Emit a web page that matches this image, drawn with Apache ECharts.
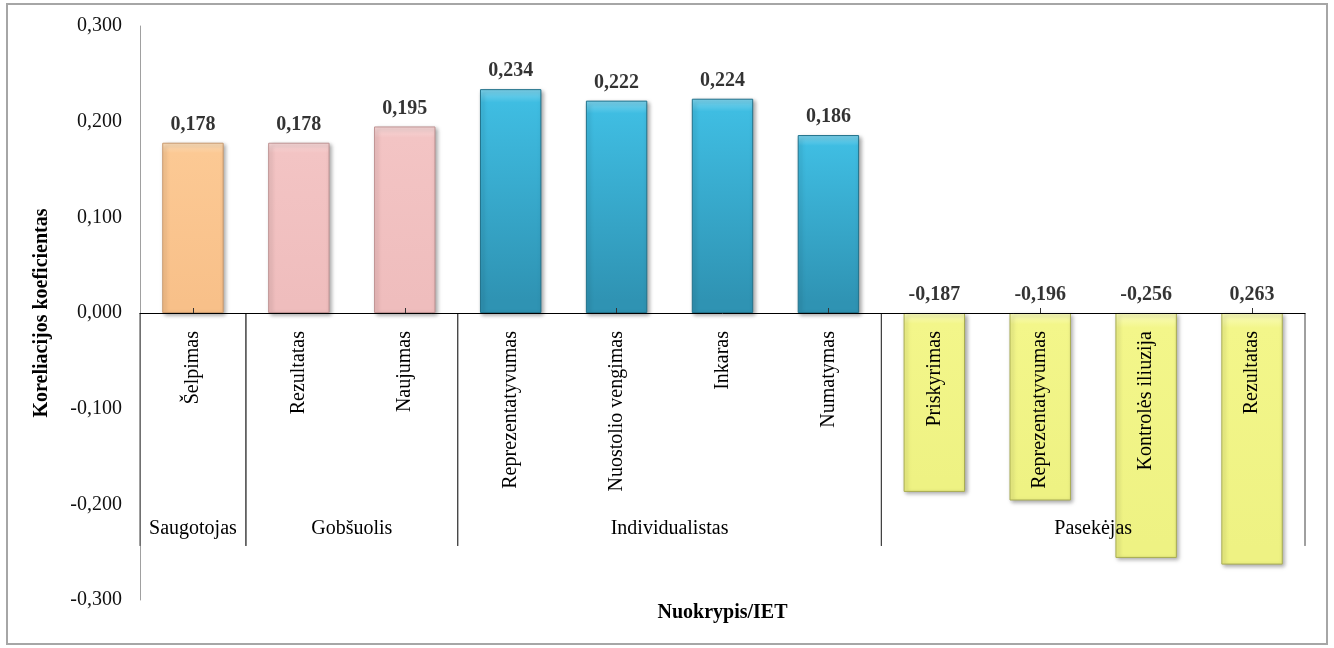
<!DOCTYPE html>
<html>
<head>
<meta charset="utf-8">
<title>Koreliacijos koeficientas</title>
<script src="https://cdn.jsdelivr.net/npm/echarts@6/dist/echarts.min.js"></script>
<style>
  html, body { margin: 0; padding: 0; background: #fff; }
  #chart { width: 1334px; height: 648px; }
</style>
</head>
<body>
<div id="chart"></div>
<script>
'use strict';

// data
var categories = ['Šelpimas', 'Rezultatas', 'Naujumas', 'Reprezentatyvumas', 'Nuostolio vengimas',
  'Inkaras', 'Numatymas', 'Priskyrimas', 'Reprezentatyvumas', 'Kontrolės iliuzija', 'Rezultatas'];
var values = [0.178, 0.178, 0.195, 0.234, 0.222, 0.224, 0.186, -0.187, -0.196, -0.256, -0.263];
var valueLabels = ['0,178', '0,178', '0,195', '0,234', '0,222', '0,224', '0,186',
  '-0,187', '-0,196', '-0,256', '0,263'];
var groupNames = ['Saugotojas', 'Gobšuolis', 'Individualistas', 'Pasekėjas'];
var groupStart = [0, 1, 3, 7];
var groupEnd = [0, 2, 6, 10];
var groupOf = [0, 1, 1, 2, 2, 2, 2, 3, 3, 3, 3];

var FONT = '"Liberation Serif", "Times New Roman", serif';

function grad(top, mid, bottom) {
  return new echarts.graphic.LinearGradient(0, 0, 0, 1, [
    { offset: 0, color: top },
    { offset: 0.06, color: mid },
    { offset: 0.94, color: bottom }
  ]);
}
var groupStyles = [
  { color: grad('#fde0bd', '#fcc994', '#f8c089'), borderColor: '#c99a6e' },
  { color: grad('#f9dada', '#f3c4c4', '#efbdbd'), borderColor: '#bf9393' },
  { color: grad('#7fd6ef', '#3fbde2', '#2f93b3'), borderColor: '#22728b' },
  { color: grad('#fafcbf', '#f3f68a', '#eef283'), borderColor: '#a9ad52' }
];

var barData = values.map(function (v, i) {
  var s = groupStyles[groupOf[i]];
  return {
    value: v,
    itemStyle: {
      color: s.color,
      borderColor: s.borderColor,
      borderWidth: 1,
      shadowColor: 'rgba(0,0,0,0.35)',
      shadowBlur: 4,
      shadowOffsetX: 2,
      shadowOffsetY: 2
    }
  };
});

// labels sit above the bar top, or above the zero line for negative bars
var labelAnchor = values.map(function (v, i) { return [i, Math.max(v, 0)]; });

var groupData = groupNames.map(function (n, g) {
  return { name: n, value: [groupStart[g], groupEnd[g], 0] };
});

var chart = echarts.init(document.getElementById('chart'));
chart.setOption({
  animation: false,
  textStyle: { fontFamily: FONT },
  graphic: [{
    type: 'rect',
    silent: true,
    z: -10,
    shape: { x: 7, y: 4, width: 1320, height: 640 },
    style: { fill: 'none', stroke: '#a6a6a6', lineWidth: 2 }
  }],
  grid: { left: 140, right: 29, top: 26, bottom: 48, containLabel: false, outerBoundsMode: 'none' },
  xAxis: {
    type: 'category',
    data: categories,
    z: 5,
    name: 'Nuokrypis/IET',
    nameLocation: 'middle',
    nameGap: 3,
    nameTextStyle: { fontFamily: FONT, fontSize: 20, fontWeight: 'bold', color: '#000' },
    axisLine: { onZero: true, lineStyle: { color: '#000', width: 1 } },
    axisTick: { show: true, inside: true, alignWithLabel: true, length: 5, lineStyle: { color: '#333' } },
    axisLabel: { show: false },
    splitLine: { show: false }
  },
  yAxis: {
    type: 'value',
    min: -0.3,
    max: 0.3,
    interval: 0.1,
    name: 'Koreliacijos koeficientas',
    nameLocation: 'middle',
    nameRotate: 90,
    nameGap: 88,
    nameTextStyle: { fontFamily: FONT, fontSize: 20, fontWeight: 'bold', color: '#000' },
    axisLine: { show: true, onZero: false, lineStyle: { color: '#a0a0a0', width: 1 } },
    axisTick: { show: false },
    splitLine: { show: false },
    axisLabel: {
      margin: 18,
      fontFamily: FONT,
      fontSize: 20,
      color: '#111',
      formatter: function (v) { return v.toFixed(3).replace('.', ','); }
    }
  },
  series: [
    {
      type: 'bar',
      data: barData,
      barWidth: '58%',
      silent: true
    },
    {
      type: 'scatter',
      data: labelAnchor,
      symbolSize: 0,
      silent: true,
      z: 6,
      label: {
        show: true,
        position: 'top',
        distance: 8,
        fontFamily: FONT,
        fontSize: 20,
        fontWeight: 'bold',
        color: '#000',
        formatter: function (p) { return valueLabels[p.dataIndex]; }
      }
    },
    {
      // category names, rotated, hanging below the zero line
      type: 'custom',
      data: categories.map(function (c, i) { return [i, 0]; }),
      silent: true,
      z: 6,
      renderItem: function (params, api) {
        var p = api.coord([api.value(0), 0]);
        return {
          type: 'text',
          x: p[0],
          y: p[1] + 18,
          rotation: Math.PI / 2,
          style: {
            x: 0,
            y: 0,
            text: categories[params.dataIndex],
            align: 'right',
            verticalAlign: 'middle',
            font: '20px ' + FONT,
            fill: '#000'
          }
        };
      }
    },
    {
      // group names and the separators between groups
      type: 'custom',
      data: groupData,
      encode: { x: [0, 1], y: 2 },
      silent: true,
      z: 4,
      renderItem: function (params, api) {
        var band = api.size([1, 0])[0];
        var x0 = api.coord([api.value(0), 0])[0] - band / 2;
        var x1 = api.coord([api.value(1), 0])[0] + band / 2;
        var yTop = api.coord([0, 0])[1];
        var yBot = api.coord([0, -0.2435])[1];
        var yText = api.coord([0, -0.225])[1];
        var lineStyle = { stroke: '#404040', lineWidth: 1 };
        return {
          type: 'group',
          children: [
            { type: 'line', shape: { x1: x0, y1: yTop, x2: x0, y2: yBot }, style: lineStyle },
            { type: 'line', shape: { x1: x1, y1: yTop, x2: x1, y2: yBot }, style: lineStyle },
            {
              type: 'text',
              style: {
                x: (x0 + x1) / 2,
                y: yText,
                text: groupNames[params.dataIndex],
                align: 'center',
                verticalAlign: 'middle',
                font: '20px ' + FONT,
                fill: '#000'
              }
            }
          ]
        };
      }
    }
  ]
});
</script>
</body>
</html>
